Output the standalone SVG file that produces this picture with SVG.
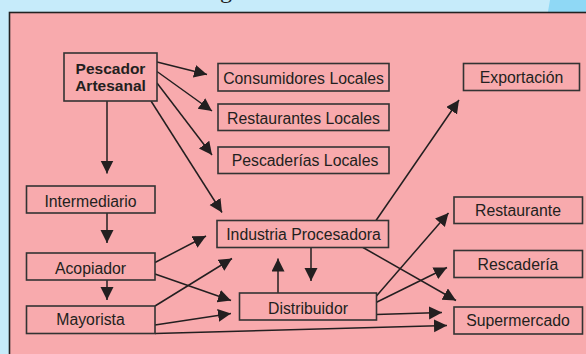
<svg xmlns="http://www.w3.org/2000/svg" width="586" height="354" viewBox="0 0 586 354">
<style>
.box{fill:#f8aaad;stroke:#333;stroke-width:1.6}
.t{font-family:"Liberation Sans",Arial,sans-serif;font-size:15.8px;fill:#231f20;text-anchor:middle}
.b{font-weight:bold;font-size:15.5px}
.c line{stroke:#231f20;stroke-width:1.5;marker-end:url(#ah)}
</style>
<defs>
<marker id="ah" markerUnits="userSpaceOnUse" markerWidth="14" markerHeight="14" refX="13" refY="6.5" orient="auto">
<path d="M0,0 L13,6.5 L0,13 z" fill="#231f20"/>
</marker>
</defs>
<rect x="0" y="0" width="586" height="354" fill="#c6ebfa"/>
<circle cx="844" cy="60" r="300" fill="#8fd8f5"/>
<text x="226" y="-2" font-family="Liberation Serif,serif" font-size="24" fill="#231f20" text-anchor="middle">g</text>
<rect x="9.5" y="12.5" width="620" height="400" fill="#f8aaad" stroke="#222" stroke-width="1.6"/>

<g class="c">
<line x1="157" y1="62" x2="207" y2="74.5"/>
<line x1="157" y1="71.5" x2="212" y2="111"/>
<line x1="157" y1="83" x2="212" y2="155"/>
<line x1="151" y1="101" x2="222" y2="212.5"/>
<line x1="107" y1="101" x2="107" y2="173.5"/>
<line x1="107" y1="213" x2="107" y2="243"/>
<line x1="107" y1="280" x2="107" y2="300"/>
<line x1="155" y1="262.5" x2="206" y2="236"/>
<line x1="155" y1="274" x2="231" y2="300.5"/>
<line x1="155" y1="306" x2="232" y2="258.5"/>
<line x1="155" y1="325" x2="231" y2="313.5"/>
<line x1="155" y1="333.5" x2="447" y2="325.5"/>
<line x1="278" y1="293" x2="278" y2="258.5"/>
<line x1="311" y1="247.5" x2="311" y2="281"/>
<line x1="376" y1="220.5" x2="459" y2="100"/>
<line x1="363" y1="247.5" x2="456" y2="300.5"/>
<line x1="376" y1="296.5" x2="448.5" y2="213"/>
<line x1="376" y1="302.5" x2="447" y2="267.5"/>
<line x1="376" y1="314.5" x2="442" y2="312.5"/>
</g>

<g id="pescador"><rect class="box" x="64" y="53" width="93" height="48"/><text class="t b" x="110.5" y="74">Pescador</text><text class="t b" x="110.5" y="91">Artesanal</text></g>
<g id="consumidores"><rect class="box" x="218" y="63.5" width="171" height="27.5"/><text class="t" x="303.5" y="84">Consumidores Locales</text></g>
<g id="restaurantes"><rect class="box" x="218" y="104" width="171" height="26.5"/><text class="t" x="303.5" y="123.5">Restaurantes Locales</text></g>
<g id="pescaderias"><rect class="box" x="218" y="147" width="171" height="26.5"/><text class="t" x="305" y="165.5">Pescaderías Locales</text></g>
<g id="exportacion"><rect class="box" x="463.5" y="63.5" width="116" height="27"/><text class="t" x="521.5" y="83">Exportación</text></g>
<g id="intermediario"><rect class="box" x="26.5" y="186" width="128.5" height="27"/><text class="t" x="90.5" y="207">Intermediario</text></g>
<g id="acopiador"><rect class="box" x="26.5" y="253" width="128.5" height="27"/><text class="t" x="90.5" y="273.5">Acopiador</text></g>
<g id="mayorista"><rect class="box" x="26.5" y="306" width="128.5" height="27.5"/><text class="t" x="90.5" y="324.5">Mayorista</text></g>
<g id="industria"><rect class="box" x="217" y="220.5" width="171.5" height="27"/><text class="t" x="303.5" y="239.5">Industria Procesadora</text></g>
<g id="distribuidor"><rect class="box" x="239.5" y="293" width="137" height="27"/><text class="t" x="308" y="313.5">Distribuidor</text></g>
<g id="restaurante"><rect class="box" x="454" y="197" width="128.5" height="26.5"/><text class="t" x="518" y="216">Restaurante</text></g>
<g id="rescaderia"><rect class="box" x="454" y="250.5" width="128.5" height="27"/><text class="t" x="518" y="269.5">Rescadería</text></g>
<g id="supermercado"><rect class="box" x="454" y="307" width="128.5" height="27"/><text class="t" x="518" y="326">Supermercado</text></g>
</svg>
